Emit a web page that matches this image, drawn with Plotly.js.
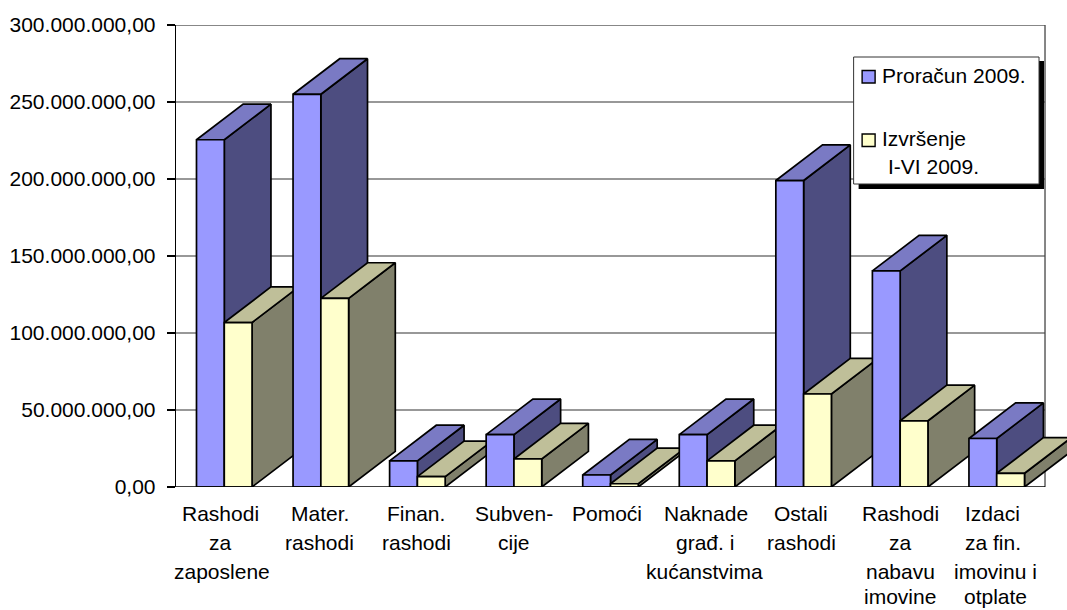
<!DOCTYPE html>
<html><head><meta charset="utf-8">
<script src="https://cdn.plot.ly/plotly-3.0.1.min.js"></script>
<style>html,body{margin:0;padding:0;background:#fff}#c{width:1067px;height:610px}</style>
</head><body><div id="c"></div>
<script>
// --- data ---
const categoryLines = [
  ["Rashodi","za","zaposlene"],
  ["Mater.","rashodi"],
  ["Finan.","rashodi"],
  ["Subven-","cije"],
  ["Pomoći"],
  ["Naknade","građ. i","kućanstvima"],
  ["Ostali","rashodi"],
  ["Rashodi","za","nabavu","imovine"],
  ["Izdaci","za fin.","imovinu i","otplate"]
];
const proracun = [225500000,255000000,17000000,34000000,7800000,34000000,199000000,140300000,31500000];
const izvrsenje = [106800000,122500000,6700000,18200000,2100000,17000000,60400000,43000000,8900000];
const yTickVals = [0,50000000,100000000,150000000,200000000,250000000,300000000];
const yTickText = ["0,00","50.000.000,00","100.000.000,00","150.000.000,00","200.000.000,00","250.000.000,00","300.000.000,00"];
const seriesNames = ["Proračun 2009.","Izvršenje"];

// --- layout constants (pixels) ---
const W=1067,H=610,L=175.5,R=1045,T=25,B=487;
const catPx=(R-L)/9, yMax=300000000, pxPerVal=(B-T)/yMax;
const barW=27.8/catPx, depthX=46.7/catPx, depthY=35.6/pxPerVal;
const FONT="Liberation Sans, Arial, sans-serif", FS=21;
const xMaxExt=8.5+(W-R)/catPx;
const px=(x)=>(x-L)/(W-L), py=(y)=>(B-y)/(B-T);

const blue={front:"#9999FF",top:"#7A7AC4",side:"#4D4D80"};
const yellow={front:"#FFFFCC",top:"#BFBF99",side:"#80806B"};
const traces=[];
function face(xs,ys,color,name){
  traces.push({type:"scatter",mode:"lines",x:xs,y:ys,fill:"toself",fillcolor:color,
    line:{color:"#000",width:1.7,shape:"linear"},hoverinfo:"skip",showlegend:false,name:name});
}
function box(x0,v,c,name){
  const x1=x0+barW;
  face([x1,x1+depthX,x1+depthX,x1,x1],[0,depthY,v+depthY,v,0],c.side,name);
  face([x0,x1,x1+depthX,x0+depthX,x0],[v,v,v+depthY,v+depthY,v],c.top,name);
  face([x0,x1,x1,x0,x0],[0,0,v,v,0],c.front,name);
}
categoryLines.forEach((_,i)=>{
  box(i-barW,proracun[i],blue,seriesNames[0]);
  box(i,izvrsenje[i],yellow,seriesNames[1]);
});

const shapes=[];
yTickVals.forEach(v=>{ if(v>0&&v<yMax) shapes.push({type:"line",layer:"below",xref:"x",yref:"y",x0:-0.5,x1:8.5,y0:v,y1:v,line:{color:"#333",width:1.2}}); });
shapes.push({type:"line",layer:"below",xref:"x",yref:"y",x0:-0.5,x1:8.5,y0:yMax,y1:yMax,line:{color:"#111",width:1.2}});
shapes.push({type:"line",layer:"below",xref:"x",yref:"y",x0:8.5,x1:8.5,y0:0,y1:yMax,line:{color:"#444",width:1.3}});
shapes.push({type:"line",layer:"above",xref:"x",yref:"y",x0:-0.5,x1:8.5,y0:0,y1:0,line:{color:"#000",width:1.4}});
// legend box
const rect=(x0,y0,x1,y1,fill,lc,lw)=>shapes.push({type:"rect",layer:"above",xref:"paper",yref:"paper",x0:px(x0),x1:px(x1),y0:py(y0),y1:py(y1),fillcolor:fill,line:{color:lc,width:lw}});
rect(858.5,61,1044,189,"#000","#000",0);
rect(853.5,57,1039,184,"#fff","#333",1);
rect(862,70.5,875,83,blue.front,"#000",1.4);
rect(862,134,875,146.5,yellow.front,"#000",1.4);

const annotations=[];
const lineY=[513,542,571.5,596.5];      // baseline rows of the category captions
const lineNudge={"0":[-4,-4,-2],"1":[-1,-1],"2":[-1,-1],"5":[-1,-2,-3],"6":[-3,-2],"7":[0,0,0,0],"8":[-4,-4,-1,-1],"4":[-4],"3":[0,0]};
categoryLines.forEach((lines,i)=>{
  lines.forEach((t,j)=>annotations.push({xref:"x",yref:"paper",x:i,y:py(lineY[j]),xshift:(lineNudge[i]||[])[j]||0,text:t,showarrow:false,
    xanchor:"center",yanchor:"middle",font:{family:FONT,size:FS,color:"#000"}}));
});
const legTxt=(x,y,t)=>annotations.push({xref:"paper",yref:"paper",x:px(x),y:py(y),text:t,showarrow:false,xanchor:"left",yanchor:"middle",borderpad:0,font:{family:FONT,size:FS,color:"#000"}});
legTxt(881,75,seriesNames[0]);
legTxt(881,138,seriesNames[1]);
legTxt(887,166,"I-VI 2009.");

Plotly.newPlot("c",traces,{
  width:W,height:H,paper_bgcolor:"#fff",plot_bgcolor:"#fff",showlegend:false,
  margin:{l:L,r:0,t:T,b:H-B,pad:0},
  xaxis:{range:[-0.5,xMaxExt],showgrid:false,zeroline:false,showline:false,showticklabels:false,ticks:"",fixedrange:true},
  yaxis:{range:[0,yMax],tickvals:yTickVals,ticktext:yTickText,showgrid:false,zeroline:false,showline:true,linecolor:"#000",linewidth:1.3,
    ticks:"outside",ticklen:8,tickcolor:"#000",tickwidth:1.2,tickfont:{family:FONT,size:FS,color:"#000"},ticklabelstandoff:7,fixedrange:true},
  shapes:shapes,annotations:annotations,font:{family:FONT,size:FS,color:"#000"}
},{displayModeBar:false,staticPlot:true});
</script></body></html>
